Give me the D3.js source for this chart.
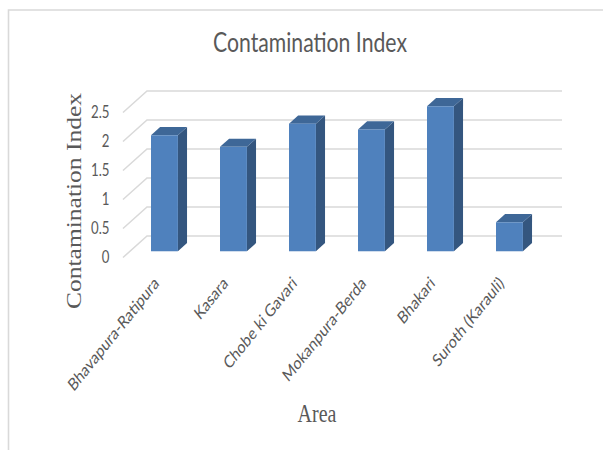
<!DOCTYPE html>
<html>
<head>
<meta charset="utf-8">
<script src="https://cdn.jsdelivr.net/npm/d3@7"></script>
<style>
  html, body { margin: 0; padding: 0; background: #fff; }
  svg { display: block; }
</style>
</head>
<body>
<svg id="chart" width="603" height="450"></svg>
<script>
// Contamination index per sampling area
const categories = ["Bhavapura-Ratipura", "Kasara", "Chobe ki Gavari", "Mokanpura-Berda", "Bhakari", "Suroth (Karauli)"];
const values = [2.0, 1.8, 2.2, 2.1, 2.5, 0.5];
const yTicks = [0, 0.5, 1, 1.5, 2, 2.5];
const yTickLabels = ["0", "0.5", "1", "1.5", "2", "2.5"];

const svg = d3.select("#chart");
const SX = 0.8;               // horizontal text compression
const gridColor = "#d9d9d9";
const textGray = "#595959";

// 3-D floor: front edge and receding depth
const floorFront = 257.5;
const depthX = 24, depthY = 21.5;
const barDepth0 = 0.29, barDepth1 = 0.67;

const x = d3.scaleBand().domain(categories).range([123, 537])
  .paddingInner(0.61).paddingOuter(0.305);
const h = d3.scaleLinear().domain([0, 2.5]).range([0, 145]);

// outer frame (top and left edges)
svg.append("path")
  .attr("d", "M8.5,450 L8.5,10 L603,10")
  .attr("fill", "none").attr("stroke", gridColor).attr("stroke-width", 1.6);

// title
svg.append("text")
  .attr("transform", `translate(310,52) scale(${SX},1)`)
  .attr("text-anchor", "middle")
  .attr("font-family", "Lato, sans-serif")
  .attr("font-size", 26.5)
  .attr("fill", textGray)
  .text("Contamination Index");

// gridlines: side wall diagonals + back wall horizontals
const grid = svg.append("g").attr("stroke", gridColor).attr("stroke-width", 1.5).attr("fill", "none");
const xFront0 = x.range()[0], xBack0 = xFront0 + depthX, xBack1 = 562;
yTicks.forEach(v => {
  const yf = floorFront - h(v), yb = yf - depthY;
  grid.append("path").attr("d", `M${xFront0},${yf} L${xBack0},${yb} L${xBack1},${yb}`);
});

// y tick labels
svg.append("g").selectAll("text").data(yTicks).join("text")
  .attr("transform", (d) => `translate(109.5,${floorFront - h(d)}) scale(${SX},1)`)
  .attr("text-anchor", "end")
  .attr("dy", "0.35em")
  .attr("font-family", "Lato, sans-serif")
  .attr("font-size", 16.5)
  .attr("fill", textGray)
  .text((d, i) => yTickLabels[i]);

// bars
const bars = svg.append("g");
const bdx = (barDepth1 - barDepth0) * depthX, bdy = (barDepth1 - barDepth0) * depthY;
categories.forEach((c, i) => {
  const w = x.bandwidth();
  const bx = x(c) + barDepth0 * depthX;
  const bottom = floorFront - barDepth0 * depthY;
  const top = bottom - h(values[i]);
  const g = bars.append("g");
  g.append("path")
    .attr("d", `M${bx + w},${top} L${bx + w + bdx},${top - bdy} L${bx + w + bdx},${bottom - bdy} L${bx + w},${bottom} Z`)
    .attr("fill", "#34567f");
  g.append("path")
    .attr("d", `M${bx},${top} L${bx + bdx},${top - bdy} L${bx + w + bdx},${top - bdy} L${bx + w},${top} Z`)
    .attr("fill", "#3e6797");
  g.append("rect")
    .attr("x", bx).attr("y", top).attr("width", w).attr("height", bottom - top)
    .attr("fill", "#4f81bd");
});

// category labels
svg.append("g").selectAll("text").data(categories).join("text")
  .attr("transform", d => `translate(${x(d) + x.bandwidth() / 2 - 1},${280}) scale(${SX},1) rotate(-45)`)
  .attr("text-anchor", "end")
  .attr("dy", "0.35em")
  .attr("font-family", "Lato, sans-serif")
  .attr("font-size", 17.5)
  .attr("fill", textGray)
  .text(d => d);

// axis titles
svg.append("text")
  .attr("transform", `translate(317,422) scale(${SX},1)`)
  .attr("text-anchor", "middle")
  .attr("font-family", "'Liberation Serif', serif")
  .attr("font-size", 25)
  .attr("fill", textGray)
  .text("Area");

svg.append("text")
  .attr("transform", `translate(81,201) scale(${SX},1) rotate(-90)`)
  .attr("text-anchor", "middle")
  .attr("font-family", "'Liberation Serif', serif")
  .attr("font-size", 25.5)
  .attr("fill", textGray)
  .text("Contamination Index");
</script>
</body>
</html>
